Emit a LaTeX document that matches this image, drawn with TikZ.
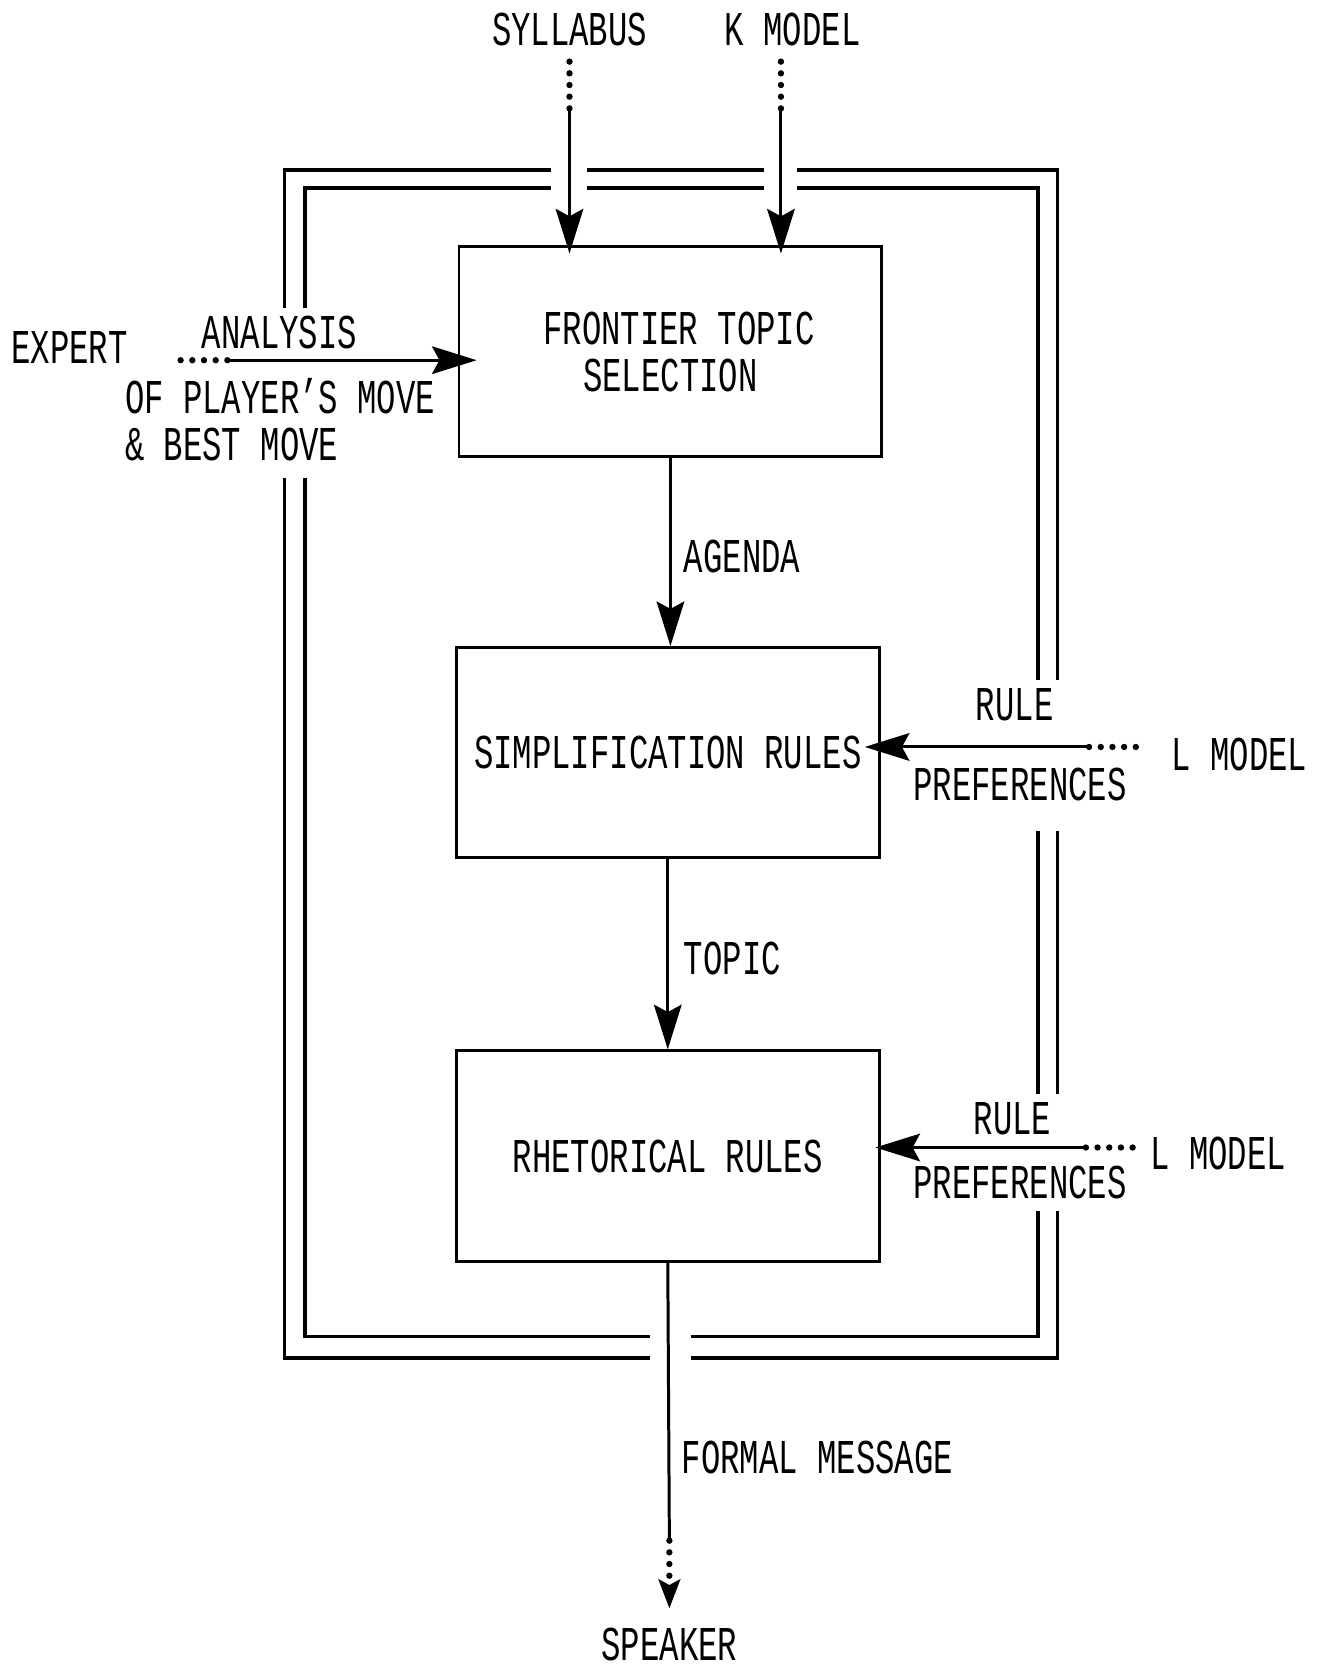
\documentclass[tikz,border=0pt]{standalone}
\usepackage{fontspec}
\setmainfont{Liberation Mono}[FakeStretch=0.665]
\usetikzlibrary{arrows.meta}
\newcommand{\diafont}{\fontsize{13}{12.5}\selectfont}
\tikzset{topicbox/.style={draw, line width=0.8pt, minimum width=39.8mm,
        minimum height=19.8mm, align=center, font=\diafont, inner sep=0pt},
    lbl/.style={font=\diafont, inner sep=0pt},
    flow/.style={line width=0.8pt, -{Stealth[length=4.2mm,width=2.6mm,inset=0.7mm]}},
    dotline/.style={line width=0.6mm, line cap=round, dash pattern=on 0pt off 1.1mm},
    frameline/.style={line width=0.9pt}
}

\begin{document}
\begin{tikzpicture}[x=0.1mm,y=-0.1mm]
      \useasboundingbox (0,0) rectangle (1240,1568);
      \node[topicbox] (fts) at (631,331) {\hspace*{1.6mm}FRONTIER TOPIC\\SELECTION};
      \node[topicbox] (simp) at (628.5,708.5) {SIMPLIFICATION RULES};
      \node[topicbox] (rhet) at (628.5,1088) {RHETORICAL RULES};
      \node[lbl] (syl) at (536,28) {SYLLABUS};
      \node[lbl] (kmod) at (746,28) {K MODEL};
      \node[lbl,anchor=west] (expert) at (10,327) {EXPERT};
      \node[lbl] (ana) at (263,313) {ANALYSIS};
      \node[lbl,anchor=west] (ofp) at (117,373) {OF PLAYER'S MOVE};
      \node[lbl,anchor=west] (best) at (117,418) {\& BEST MOVE};
      \node[lbl,anchor=west] (agenda) at (643,524) {AGENDA};
      \node[lbl,anchor=west] (topic) at (643,902) {TOPIC};
      \node[lbl,anchor=west] (fmsg) at (641,1372) {FORMAL MESSAGE};
      \node[lbl] (spk) at (630,1548) {SPEAKER};
      \node[lbl] (rule1) at (955,663) {RULE};
      \node[lbl] (pref1) at (960,738) {PREFERENCES};
      \node[lbl,anchor=west] (lmod1) at (1102,710) {L MODEL};
      \node[lbl] (rule2) at (953,1053) {RULE};
      \node[lbl] (pref2) at (960,1113) {PREFERENCES};
      \node[lbl,anchor=west] (lmod2) at (1082,1086) {L MODEL};
      \coordinate (syldot) at (536,102);
      \coordinate (kdot) at (735,102);
      \coordinate (expdot) at (214,339);
      \coordinate (lm1dot) at (1025,703);
      \coordinate (lm2dot) at (1022,1080);
      \coordinate (spkdot) at (630,1450);
      \draw[dotline] (syldot) -- ++(0,-44);
      \draw[dotline] (kdot) -- ++(0,-44);
      \draw[flow,shorten >=-0.8mm] (syldot) -- (syldot |- fts.north);
      \draw[flow,shorten >=-0.8mm] (kdot) -- (kdot |- fts.north);
      \draw[dotline] (expdot) -- ++(-46,0);
      \draw[flow,shorten >=-1.8mm] (expdot) -- (expdot -| fts.west);
      \draw[flow] (fts.south) -- (fts.south |- simp.north);
      \draw[flow] (simp.south) -- (simp.south |- rhet.north);
      \draw[dotline] (lm1dot) -- ++(50,0);
      \draw[flow,shorten >=-1.5mm] (lm1dot) -- (lm1dot -| simp.east);
      \draw[dotline] (lm2dot) -- ++(45,0);
      \draw[flow,shorten >=-0.5mm] (lm2dot) -- (lm2dot -| rhet.east);
      \draw[line width=0.8pt] (rhet.south) -- (spkdot);
      \draw[dotline,-{Stealth[length=2.7mm,width=2mm,inset=0.5mm]},shorten >=1.8mm] (spkdot) -- (spk.north);
      % double frame, broken where the labels cross it
      \foreach \lx/\rx/\ty/\by in {268/995/160/1278, 287/977/177/1258} {
        \draw[frameline] (519,\ty) -- (\lx,\ty) -- (\lx,290);
        \draw[frameline] (\lx,450) -- (\lx,\by) -- (612,\by);
        \draw[frameline] (650,\by) -- (\rx,\by) -- (\rx,1140);
        \draw[frameline] (\rx,1030) -- (\rx,782);
        \draw[frameline] (\rx,640) -- (\rx,\ty) -- (750,\ty);
        \draw[frameline] (719,\ty) -- (552,\ty);
      }
\end{tikzpicture}
\end{document}
